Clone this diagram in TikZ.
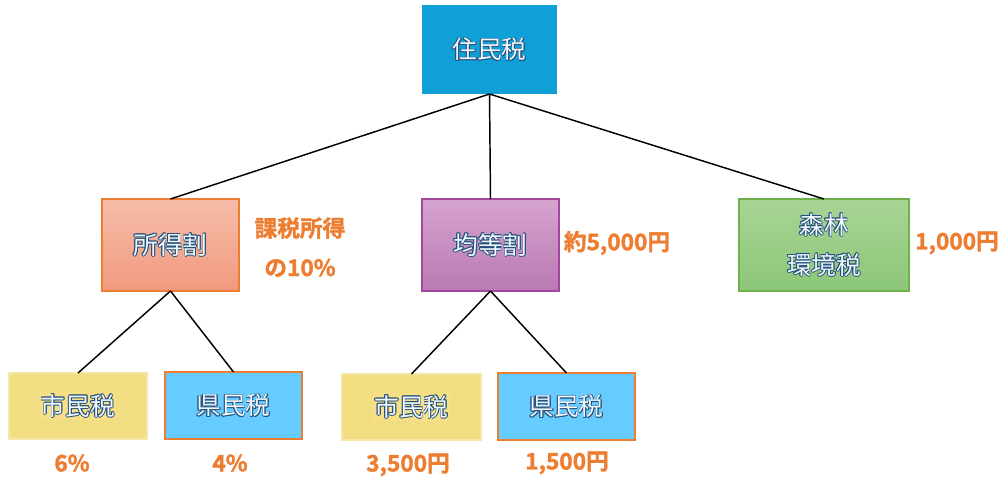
\documentclass[tikz,border=0pt]{standalone}
\usepackage{fontspec}
\setmainfont{Noto Sans CJK JP}
\newfontfamily\jpbold[FakeBold=1.6]{Noto Sans CJK JP Bold}
\usepackage{xcolor}
\definecolor{olc}{HTML}{24527E}
\definecolor{txw}{HTML}{F2F8FC}
\definecolor{orng}{HTML}{ED7D31}
\definecolor{topblue}{HTML}{10A0D8}
\definecolor{salT}{HTML}{F6BCA8}
\definecolor{salB}{HTML}{F09A7E}
\definecolor{purT}{HTML}{D6A3CF}
\definecolor{purB}{HTML}{BA79B3}
\definecolor{purD}{HTML}{A0489C}
\definecolor{grnT}{HTML}{A9D496}
\definecolor{grnB}{HTML}{8CC777}
\definecolor{grnD}{HTML}{6FB04B}
\definecolor{yelF}{HTML}{F1DD82}
\definecolor{yelD}{HTML}{F5E7A6}
\definecolor{yelBg}{HTML}{F7DF85}
\definecolor{skyF}{HTML}{66CBFF}
\newcommand\olone[3]{\makebox[0pt][l]{\hspace*{#1}\raisebox{#2}{\color{olc}#3}}}
\newcommand\olt[1]{\leavevmode\olone{0.6pt}{0pt}{#1}\olone{-0.6pt}{0pt}{#1}\olone{0pt}{0.6pt}{#1}\olone{0pt}{-0.6pt}{#1}\olone{0.45pt}{0.45pt}{#1}\olone{-0.45pt}{0.45pt}{#1}\olone{0.45pt}{-0.45pt}{#1}\olone{-0.45pt}{-0.45pt}{#1}{\color{txw}#1}}
\tikzset{
  box/.style={rectangle, inner sep=0pt, outer sep=0pt, line width=1pt, font=\fontsize{18.5}{30}\selectfont, align=center},
  lbl/.style={inner sep=0pt, text=orng, font=\jpbold\fontsize{17}{20}\selectfont},
  conn/.style={line width=1.1pt, black},
}
\begin{document}
\begin{tikzpicture}[x=0.75pt,y=-0.75pt]
\useasboundingbox (0,0) rectangle (1000,481);
% boxes
\node[box, fill=topblue, minimum width={135*0.75pt}, minimum height={89*0.75pt}] (zei) at (489.5,49.5) {\olt{住民税}};
\node[box, draw=orng, top color=salT, bottom color=salB, minimum width={137*0.75pt}, minimum height={92*0.75pt}] (shotoku) at (170.5,245) {\olt{所得割}};
\node[box, draw=purD, top color=purT, bottom color=purB, minimum width={137*0.75pt}, minimum height={92*0.75pt}] (kinto) at (490.5,245) {\olt{均等割}};
\node[box, draw=grnD, top color=grnT, bottom color=grnB, minimum width={170*0.75pt}, minimum height={92*0.75pt}] (shinrin) at (824,245) {\olt{森林}\\\olt{環境税}};
\node[box, draw=yelD, fill=yelF, minimum width={138*0.75pt}, minimum height={66*0.75pt}] (shiL) at (78,406) {\fboxsep=1pt\colorbox{yelBg}{\olt{市民税}}};
\node[box, draw=orng, fill=skyF, minimum width={137*0.75pt}, minimum height={67*0.75pt}] (kenL) at (233.5,405.5) {\olt{県民税}};
\node[box, draw=yelD, fill=yelF, minimum width={139*0.75pt}, minimum height={66*0.75pt}] (shiR) at (411.5,407) {\fboxsep=1pt\colorbox{yelBg}{\olt{市民税}}};
\node[box, draw=orng, fill=skyF, minimum width={137*0.75pt}, minimum height={67*0.75pt}] (kenR) at (566.5,406.5) {\olt{県民税}};
% connectors
\draw[conn] (zei.south) -- (shotoku.north);
\draw[conn] (zei.south) -- (kinto.north);
\draw[conn] (zei.south) -- (shinrin.north);
\draw[conn] (shotoku.south) -- (shiL.north);
\draw[conn] (shotoku.south) -- (kenL.north);
\draw[conn] (kinto.south) -- (shiR.north);
\draw[conn] (kinto.south) -- (kenR.north);
% labels
\node[lbl] (l1) at (300,228) {課税所得};
\node[lbl] (l2) at (300,268) {の10\%};
\node[lbl] (l3) at (617,243) {約5,000円};
\node[lbl] (l4) at (957,243) {1,000円};
\node[lbl] (l5) at (72,463) {6\%};
\node[lbl] (l6) at (230,463) {4\%};
\node[lbl] (l7) at (408,465) {3,500円};
\node[lbl] (l8) at (567,463) {1,500円};
\end{tikzpicture}
\end{document}
